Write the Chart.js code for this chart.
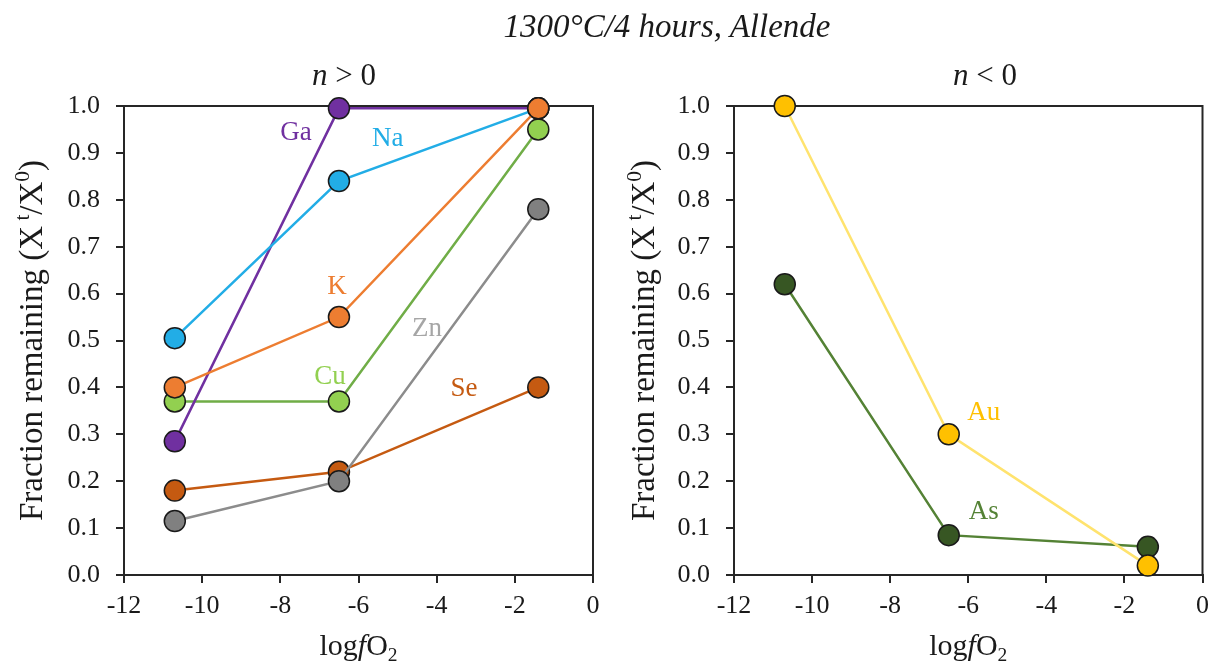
<!DOCTYPE html>
<html>
<head>
<meta charset="utf-8">
<script src="https://cdn.jsdelivr.net/npm/chart.js@4.4.0/dist/chart.umd.min.js"></script>
<style>
  html, body { margin: 0; padding: 0; background: #fff; }
  #wrap { position: relative; width: 1217px; height: 663px; overflow: hidden; }
  .panel { position: absolute; top: 0; height: 663px; }
  #left { left: 0; width: 608px; }
  #right { left: 608px; width: 609px; }
  #mainTitle {
    position: absolute; top: 10px; left: 667px; transform: translateX(-50%);
    font: italic 33px "Liberation Serif", "Times New Roman", serif;
    line-height: 1; white-space: nowrap; color: #1a1a1a; z-index: 2;
  }
</style>
</head>
<body>
<div id="wrap">
  <div id="mainTitle">1300°C/4 hours, Allende</div>
  <div class="panel" id="left"><canvas id="chartLeft" width="608" height="663"></canvas></div>
  <div class="panel" id="right"><canvas id="chartRight" width="609" height="663"></canvas></div>
</div>
<script>
// logfO2 of the three runs
const xValues = [-10.7, -6.5, -1.4];

// n > 0 elements
const gaValues = [0.285, 0.995, 0.995];
const naValues = [0.505, 0.84, 0.995];
const kValues  = [0.40, 0.55, 0.995];
const cuValues = [0.37, 0.37, 0.95];
const znValues = [0.115, 0.20, 0.78];
const seValues = [0.18, 0.22, 0.40];

// n < 0 elements
const auValues = [1.0, 0.30, 0.02];
const asValues = [0.62, 0.085, 0.06];

// axis ranges
const xRange = [-12, 0];
const xStep = 2;
const yRange = [0, 1];
const yStep = 0.1;

const SERIF = '"Liberation Serif", "Times New Roman", serif';
const INK = '#1a1a1a';

function pts(values) {
    return values.map((v, i) => ({ x: xValues[i], y: v }));
}

function series(label, values, lineColor, markerColor) {
    return {
        label: label,
        data: pts(values),
        borderColor: lineColor,
        borderWidth: 2.5,
        pointBackgroundColor: markerColor,
        pointBorderColor: '#1a1a1a',
        pointBorderWidth: 1.5,
        pointRadius: 10.5,
        pointHoverRadius: 10.5,
        tension: 0,
        clip: false
    };
}

// draws text pieces (normal / italic / sup / sub) centred on 0
function drawPieces(ctx, pieces, size) {
    const fontFor = p => {
        const s = (p.sup || p.sub) ? size * 0.65 : size;
        return (p.italic ? 'italic ' : '') + s + 'px ' + SERIF;
    };
    let total = 0;
    pieces.forEach(p => { ctx.font = fontFor(p); total += ctx.measureText(p.t).width; });
    let x = -total / 2;
    pieces.forEach(p => {
        ctx.font = fontFor(p);
        let dy = 0;
        if (p.sup) dy = -size * 0.38;
        if (p.sub) dy = size * 0.2;
        ctx.fillText(p.t, x, dy);
        x += ctx.measureText(p.t).width;
    });
}

function overlayPlugin(cfg) {
    return {
        id: 'overlay',
        beforeDatasetsDraw(chart) {
            const a = chart.chartArea;
            const ctx = chart.ctx;
            ctx.save();
            ctx.strokeStyle = '#262626';
            ctx.lineWidth = 2;
            ctx.strokeRect(a.left, a.top, a.right - a.left, a.bottom - a.top);
            ctx.restore();
        },
        afterDraw(chart) {
            const a = chart.chartArea;
            const ctx = chart.ctx;
            const xs = chart.scales.x, ys = chart.scales.y;
            ctx.save();
            ctx.fillStyle = INK;
            ctx.textBaseline = 'alphabetic';
            ctx.textAlign = 'left';

            // panel title
            ctx.save();
            ctx.translate(cfg.titleX, 85);
            drawPieces(ctx, [{ t: 'n', italic: true }, { t: cfg.titleRest }], 31);
            ctx.restore();

            // x axis title
            ctx.save();
            ctx.translate((a.left + a.right) / 2, 655);
            drawPieces(ctx, [{ t: 'log' }, { t: 'f', italic: true }, { t: 'O' }, { t: '2', sub: true }], 30);
            ctx.restore();

            // y axis title
            ctx.save();
            ctx.translate(cfg.yTitleX, (a.top + a.bottom) / 2);
            ctx.rotate(-Math.PI / 2);
            drawPieces(ctx, [
                { t: 'Fraction remaining (X' }, { t: ' t', sup: true }, { t: '/' },
                { t: 'X' }, { t: '0', sup: true }, { t: ')' }
            ], 33);
            ctx.restore();

            // element labels
            ctx.font = '27px ' + SERIF;
            ctx.textAlign = 'center';
            ctx.textBaseline = 'middle';
            cfg.labels.forEach(l => {
                ctx.fillStyle = l.color;
                ctx.fillText(l.text, xs.getPixelForValue(l.x), ys.getPixelForValue(l.y));
            });
            ctx.restore();
        }
    };
}

function makeChart(id, datasets, yWidth, padRight, cfg) {
    const axisColor = '#262626';
    return new Chart(document.getElementById(id), {
        type: 'line',
        data: { datasets: datasets },
        options: {
            responsive: false,
            animation: false,
            events: [],
            layout: { padding: { top: 106, left: 0, right: padRight, bottom: 0 } },
            plugins: { legend: { display: false }, tooltip: { enabled: false } },
            scales: {
                x: {
                    type: 'linear',
                    min: xRange[0], max: xRange[1],
                    afterFit: s => { s.height = 88; },
                    ticks: {
                        stepSize: xStep,
                        color: INK,
                        padding: 8,
                        maxRotation: 0,
                        font: { family: SERIF, size: 26 },
                        callback: v => String(v)
                    },
                    grid: { drawOnChartArea: false, drawTicks: true, tickLength: 8, color: axisColor, lineWidth: 2 },
                    border: { display: true, color: axisColor, width: 2 }
                },
                y: {
                    min: yRange[0], max: yRange[1],
                    afterFit: s => { s.width = yWidth; },
                    ticks: {
                        stepSize: yStep,
                        color: INK,
                        padding: 16,
                        font: { family: SERIF, size: 26 },
                        callback: v => v.toFixed(1)
                    },
                    grid: { drawOnChartArea: false, drawTicks: true, tickLength: 8, color: axisColor, lineWidth: 2 },
                    border: { display: true, color: axisColor, width: 2 }
                }
            }
        },
        plugins: [overlayPlugin(cfg)]
    });
}

// first dataset is drawn on top
makeChart('chartLeft', [
    series('K', kValues, '#ED7D31', '#ED7D31'),
    series('Na', naValues, '#22ADE6', '#22ADE6'),
    series('Ga', gaValues, '#7030A0', '#7030A0'),
    series('Cu', cuValues, '#70AD47', '#92D050'),
    series('Zn', znValues, '#8C8C8C', '#808080'),
    series('Se', seValues, '#C55A11', '#C55A11')
], 124, 15, {
    titleX: 344, titleRest: ' > 0', yTitleX: 42,
    labels: [
        { text: 'Ga', x: -7.6, y: 0.942, color: '#7030A0' },
        { text: 'Na', x: -5.25, y: 0.93, color: '#22ADE6' },
        { text: 'K', x: -6.55, y: 0.614, color: '#ED7D31' },
        { text: 'Cu', x: -6.73, y: 0.422, color: '#92D050' },
        { text: 'Zn', x: -4.25, y: 0.525, color: '#A6A6A6' },
        { text: 'Se', x: -3.3, y: 0.397, color: '#C55A11' }
    ]
});

makeChart('chartRight', [
    series('Au', auValues, '#FFE36E', '#FFC000'),
    series('As', asValues, '#548235', '#375623')
], 126, 13, {
    titleX: 377, titleRest: ' < 0', yTitleX: 46,
    labels: [
        { text: 'Au', x: -5.6, y: 0.345, color: '#FFC000' },
        { text: 'As', x: -5.6, y: 0.134, color: '#548235' }
    ]
});
</script>
</body>
</html>
